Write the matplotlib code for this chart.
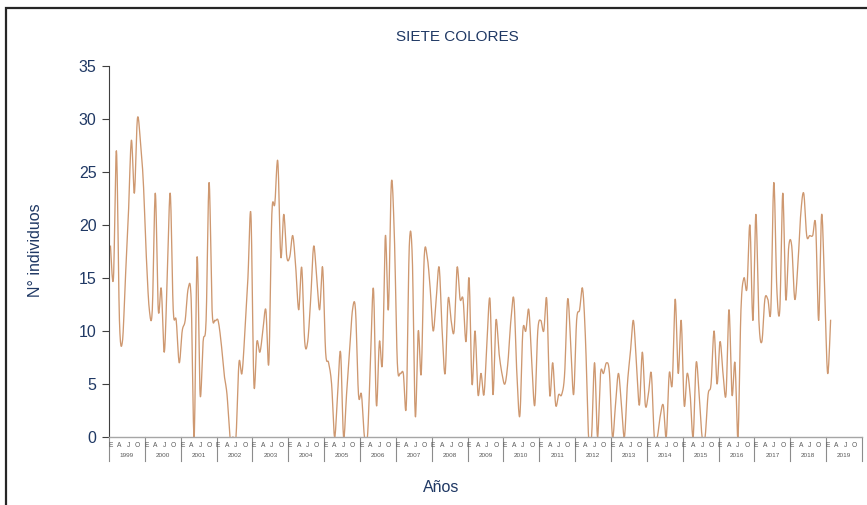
import matplotlib
matplotlib.use("Agg")
import matplotlib.pyplot as plt
import matplotlib.transforms as mtrans
from matplotlib.patches import Rectangle
import numpy as np

# monthly counts, Jan 1999 onwards
years = list(range(1999, 2020))
month_letters = ["E", "A", "J", "O"]
counts_1999 = [18, 15, 27, 11, 9, 15, 21, 28, 23, 30, 28, 24]
counts_2000 = [17, 12, 12, 23, 12, 14, 8, 15, 23, 12, 11, 7]
counts_2001 = [10, 11, 14, 13, 0, 17, 4, 9, 11, 24, 12, 11]
counts_2002 = [11, 9, 6, 4, 0, 0, 0, 7, 6, 10, 15, 21]
counts_2003 = [5, 9, 8, 10, 12, 7, 21, 22, 26, 17, 21, 17]
counts_2004 = [17, 19, 16, 12, 16, 9, 9, 13, 18, 15, 12, 16]
counts_2005 = [8, 7, 5, 0, 4, 8, 0, 4, 8, 12, 12, 4]
counts_2006 = [4, 0, 0, 7, 14, 3, 9, 7, 19, 12, 24, 19]
counts_2007 = [7, 6, 6, 3, 18, 17, 2, 10, 6, 17, 17, 14]
counts_2008 = [10, 13, 16, 10, 6, 13, 11, 10, 16, 13, 13, 9]
counts_2009 = [15, 5, 10, 4, 6, 4, 9, 13, 4, 11, 8, 6]
counts_2010 = [5, 7, 11, 13, 6, 2, 10, 10, 12, 7, 3, 10]
counts_2011 = [11, 10, 13, 4, 7, 3, 4, 4, 6, 13, 9, 4]
counts_2012 = [11, 12, 14, 9, 0, 0, 7, 0, 6, 6, 7, 6]
counts_2013 = [0, 3, 6, 3, 0, 5, 8, 11, 7, 3, 8, 3]
counts_2014 = [4, 6, 0, 0, 2, 3, 0, 6, 5, 13, 6, 11]
counts_2015 = [3, 6, 4, 0, 7, 4, 0, 0, 4, 5, 10, 5]
counts_2016 = [9, 6, 4, 12, 4, 7, 0, 12, 15, 14, 20, 11]
counts_2017 = [21, 11, 9, 13, 13, 12, 24, 14, 12, 23, 13, 18]
counts_2018 = [18, 13, 16, 21, 23, 19, 19, 19, 20, 11, 21, 14]
counts_2019 = [6, 11]

counts = (counts_1999 + counts_2000 + counts_2001 + counts_2002 + counts_2003
          + counts_2004 + counts_2005 + counts_2006 + counts_2007 + counts_2008
          + counts_2009 + counts_2010 + counts_2011 + counts_2012 + counts_2013
          + counts_2014 + counts_2015 + counts_2016 + counts_2017 + counts_2018
          + counts_2019)

navy = "#1F3864"
line_col = "#CE9870"
grey = "#8C8C8C"


def smooth_line(x, y, steps=12):
    # catmull-rom curve through the points (like a smoothed line in a spreadsheet)
    x = np.asarray(x, float)
    y = np.asarray(y, float)
    px = np.concatenate([[x[0]], x, [x[-1]]])
    py = np.concatenate([[y[0]], y, [y[-1]]])
    t = np.linspace(0, 1, steps, endpoint=False)
    xs, ys = [], []
    for k in range(1, len(px) - 2):
        for p, out in ((px, xs), (py, ys)):
            p0, p1, p2, p3 = p[k - 1], p[k], p[k + 1], p[k + 2]
            out.append(0.5 * (2 * p1 + (-p0 + p2) * t
                              + (2 * p0 - 5 * p1 + 4 * p2 - p3) * t ** 2
                              + (-p0 + 3 * p1 - 3 * p2 + p3) * t ** 3))
    xs.append([x[-1]])
    ys.append([y[-1]])
    return np.concatenate(xs), np.concatenate(ys)


fig = plt.figure(figsize=(8.67, 5.05), dpi=100)
plt.rcParams['font.family'] = ['Liberation Sans', 'DejaVu Sans']
ax = fig.add_axes([0.1257, 0.1347, 0.9942 - 0.1257, 0.8693 - 0.1347])

months = np.arange(len(counts)) + 0.5
sx, sy = smooth_line(months, counts)
ax.plot(sx, sy, color=line_col, linewidth=0.95)

n_months = 12 * len(years)
ax.set_xlim(0, n_months)
ax.set_ylim(0, 35)
ax.set_yticks(range(0, 36, 5))
ax.tick_params(axis="y", direction="out", length=5, width=0.8, colors="#404040",
               labelcolor=navy, labelsize=11.5, pad=4)
ax.set_xticks([])
for s in ["top", "right"]:
    ax.spines[s].set_visible(False)
ax.spines["left"].set_color("#404040")
ax.spines["left"].set_linewidth(0.8)
ax.spines["bottom"].set_color("#A6A6A6")
ax.spines["bottom"].set_linewidth(1.0)

# two level category axis: months E A J O and year boxes
trans = mtrans.blended_transform_factory(ax.transData, ax.transAxes)
box_bottom = -0.064
for j, yr in enumerate(years):
    x0 = 12 * j
    ax.plot([x0, x0], [0, box_bottom], transform=trans, color=grey,
            linewidth=0.8, clip_on=False)
    for k, letter in enumerate(month_letters):
        ax.text(x0 + 3 * k + 0.5, -0.022, letter, transform=trans,
                ha="center", va="center", fontsize=4.8, color="#595959")
    ax.text(x0 + 6, -0.05, str(yr), transform=trans, ha="center",
            va="center", fontsize=4.6, color="#595959")
ax.plot([n_months, n_months], [0, box_bottom], transform=trans, color=grey,
        linewidth=0.8, clip_on=False)

fig.text(0.527, 0.927, "SIETE COLORES", ha="center", va="center",
         fontsize=11, color=navy)
fig.text(0.041, 0.505, "N° individuos", rotation=90, ha="center",
         va="center", fontsize=11.5, color=navy)
fig.text(0.509, 0.034, "Años", ha="center", va="center", fontsize=11.5,
         color=navy)

# frame of the original chart area (cut at right and bottom)
fig.patches.append(Rectangle((0.007, -0.5), 2.0, 0.984 + 0.5,
                             transform=fig.transFigure, fill=False,
                             edgecolor="#262626", linewidth=1.6))

fig.savefig("out.png", dpi=100)
